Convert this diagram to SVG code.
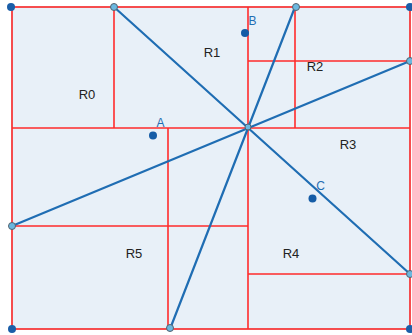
<svg xmlns="http://www.w3.org/2000/svg" width="412" height="335" viewBox="0 0 412 335">
<style>
.bg{fill:#e8f0f8;stroke:#aab4bf;stroke-width:1}
.red{stroke:#ff2b2b;stroke-width:1.6;fill:none}
.blue{stroke:#1f6db3;stroke-width:2.2;fill:none;stroke-linecap:round}
.ep{fill:#6ab8e0;stroke:#55626e;stroke-width:1}
.corner{fill:#1a5ea8}
.pt{fill:#155ca6}
.lbl{font-family:"Liberation Sans",Arial,sans-serif;font-size:13px;fill:#222;text-anchor:middle;dominant-baseline:central}
.plbl{font-family:"Liberation Sans",Arial,sans-serif;font-size:12px;fill:#1f6db3;text-anchor:middle;dominant-baseline:central}
</style>
<rect class="bg" x="12" y="7" width="398" height="322"/>
<g id="regions">
<rect class="red" x="12" y="7" width="398" height="322"/>
<line class="red" x1="114" y1="7" x2="114" y2="128"/>
<line class="red" x1="12" y1="128" x2="410" y2="128"/>
<line class="red" x1="248" y1="7" x2="248" y2="329"/>
<line class="red" x1="248" y1="61" x2="410" y2="61"/>
<line class="red" x1="295" y1="7" x2="295" y2="128"/>
<line class="red" x1="168" y1="128" x2="168" y2="329"/>
<line class="red" x1="12" y1="226" x2="248" y2="226"/>
<line class="red" x1="248" y1="274" x2="410" y2="274"/>
</g>
<g id="connectors">
<line class="blue" x1="114" y1="7" x2="410" y2="274"/>
<line class="blue" x1="295" y1="7" x2="170" y2="329"/>
<line class="blue" x1="12" y1="226" x2="410" y2="61"/>
</g>
<g id="endpoints">
<circle class="corner" cx="11" cy="7" r="4"/>
<circle class="corner" cx="410" cy="7" r="4"/>
<circle class="corner" cx="12" cy="329" r="4"/>
<circle class="corner" cx="410" cy="329" r="4"/>
<circle class="ep" cx="114" cy="7" r="3.5"/>
<circle class="ep" cx="296" cy="7" r="3.5"/>
<circle class="ep" cx="410" cy="61" r="3.5"/>
<circle class="ep" cx="12" cy="226" r="3.5"/>
<circle class="ep" cx="170" cy="328" r="3.5"/>
<circle class="ep" cx="410" cy="274" r="3.5"/>
<circle class="ep" cx="248" cy="127" r="3"/>
</g>
<g id="R0"><text class="lbl" x="87" y="94">R0</text></g>
<g id="R1"><text class="lbl" x="212" y="52">R1</text></g>
<g id="R2"><text class="lbl" x="315" y="66">R2</text></g>
<g id="R3"><text class="lbl" x="348" y="144">R3</text></g>
<g id="R4"><text class="lbl" x="291" y="253">R4</text></g>
<g id="R5"><text class="lbl" x="134" y="253">R5</text></g>
<g id="A"><circle class="pt" cx="153" cy="135.5" r="4"/><text class="plbl" x="160.5" y="123">A</text></g>
<g id="B"><circle class="pt" cx="245" cy="33" r="4"/><text class="plbl" x="252.5" y="20.5">B</text></g>
<g id="C"><circle class="pt" cx="312.5" cy="198.5" r="4"/><text class="plbl" x="320.5" y="186">C</text></g>
</svg>
